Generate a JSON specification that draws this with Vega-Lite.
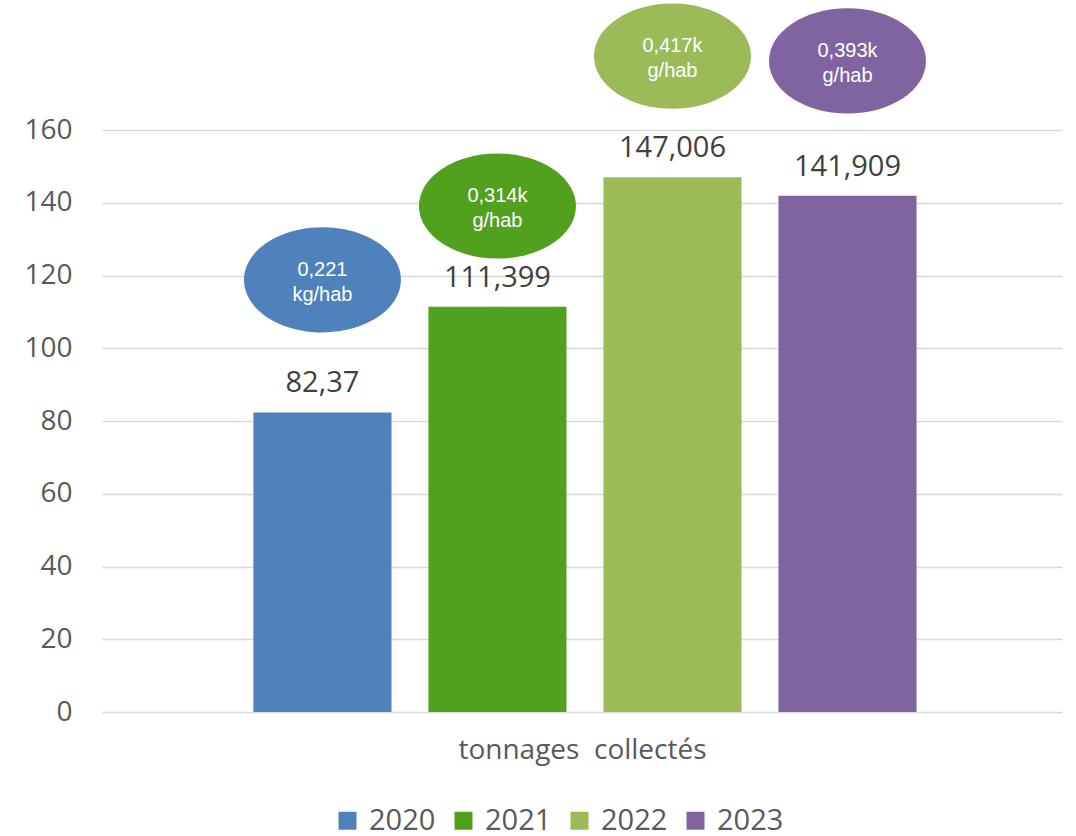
{
  "$schema": "https://vega.github.io/schema/vega-lite/v6.json",
  "width": 960,
  "height": 582,
  "autosize": {"type": "none"},
  "padding": {"left": 102, "top": 130, "right": 14, "bottom": 124},
  "background": "white",
  "config": {"view": {"stroke": null}, "font": "Open Sans"},
  "data": {
    "values": [
      {"year": "2020", "tonnage": 82.37, "label": "82,37", "per_hab": "0,221\nkg/hab", "badge_level": 118.8},
      {"year": "2021", "tonnage": 111.399, "label": "111,399", "per_hab": "0,314k\ng/hab", "badge_level": 139.1},
      {"year": "2022", "tonnage": 147.006, "label": "147,006", "per_hab": "0,417k\ng/hab", "badge_level": 180.3},
      {"year": "2023", "tonnage": 141.909, "label": "141,909", "per_hab": "0,393k\ng/hab", "badge_level": 179.0}
    ]
  },
  "encoding": {
    "x": {
      "field": "year",
      "type": "nominal",
      "scale": {"paddingInner": 0.211, "paddingOuter": 0.848, "align": 0.51},
      "axis": {
        "labels": false,
        "ticks": false,
        "domain": false,
        "title": "tonnages\u00a0 collectés",
        "titleFont": "Open Sans",
        "titleFontSize": 28,
        "titleFontWeight": "normal",
        "titleColor": "#595959",
        "titlePadding": 24
      }
    }
  },
  "layer": [
    {
      "mark": {"type": "bar"},
      "encoding": {
        "y": {
          "field": "tonnage",
          "type": "quantitative",
          "scale": {"domain": [0, 160], "nice": false},
          "axis": {
            "values": [0, 20, 40, 60, 80, 100, 120, 140, 160],
            "title": null,
            "domain": false,
            "ticks": false,
            "labelFont": "Open Sans",
            "labelFontSize": 28,
            "labelColor": "#595959",
            "labelPadding": 30,
            "gridColor": "#d9d9d9",
            "gridWidth": 1.5
          }
        },
        "color": {
          "field": "year",
          "type": "nominal",
          "scale": {"domain": ["2020", "2021", "2022", "2023"], "range": ["#4f81bd", "#52a11e", "#9bbb59", "#8064a2"]},
          "legend": {
            "title": null,
            "orient": "none",
            "legendX": 231,
            "legendY": 676,
            "direction": "horizontal",
            "symbolType": "square",
            "symbolSize": 324,
            "symbolStrokeWidth": 0,
            "labelFont": "Open Sans",
            "labelFontSize": 29,
            "labelColor": "#595959",
            "labelOffset": 7,
            "columnPadding": 13
          }
        }
      }
    },
    {
      "mark": {"type": "text", "dy": -20, "baseline": "alphabetic", "fontSize": 29, "font": "Open Sans", "color": "#404040"},
      "encoding": {
        "y": {"field": "tonnage", "type": "quantitative"},
        "text": {"field": "label"}
      }
    },
    {
      "mark": {
        "type": "point",
        "filled": true,
        "opacity": 1,
        "strokeWidth": 0,
        "size": 24649,
        "shape": "M-1,0C-1,-0.37,-0.5523,-0.67,0,-0.67C0.5523,-0.67,1,-0.37,1,0C1,0.37,0.5523,0.67,0,0.67C-0.5523,0.67,-1,0.37,-1,0Z"
      },
      "encoding": {
        "y": {"field": "badge_level", "type": "quantitative"},
        "fill": {
          "field": "year",
          "type": "nominal",
          "scale": {"domain": ["2020", "2021", "2022", "2023"], "range": ["#4f81bd", "#52a11e", "#9bbb59", "#8064a2"]},
          "legend": null
        }
      }
    },
    {
      "mark": {"type": "text", "baseline": "middle", "lineBreak": "\n", "lineHeight": 25, "dy": -10, "fontSize": 20, "font": "Liberation Sans", "color": "white"},
      "encoding": {
        "y": {"field": "badge_level", "type": "quantitative"},
        "text": {"field": "per_hab"}
      }
    }
  ]
}
